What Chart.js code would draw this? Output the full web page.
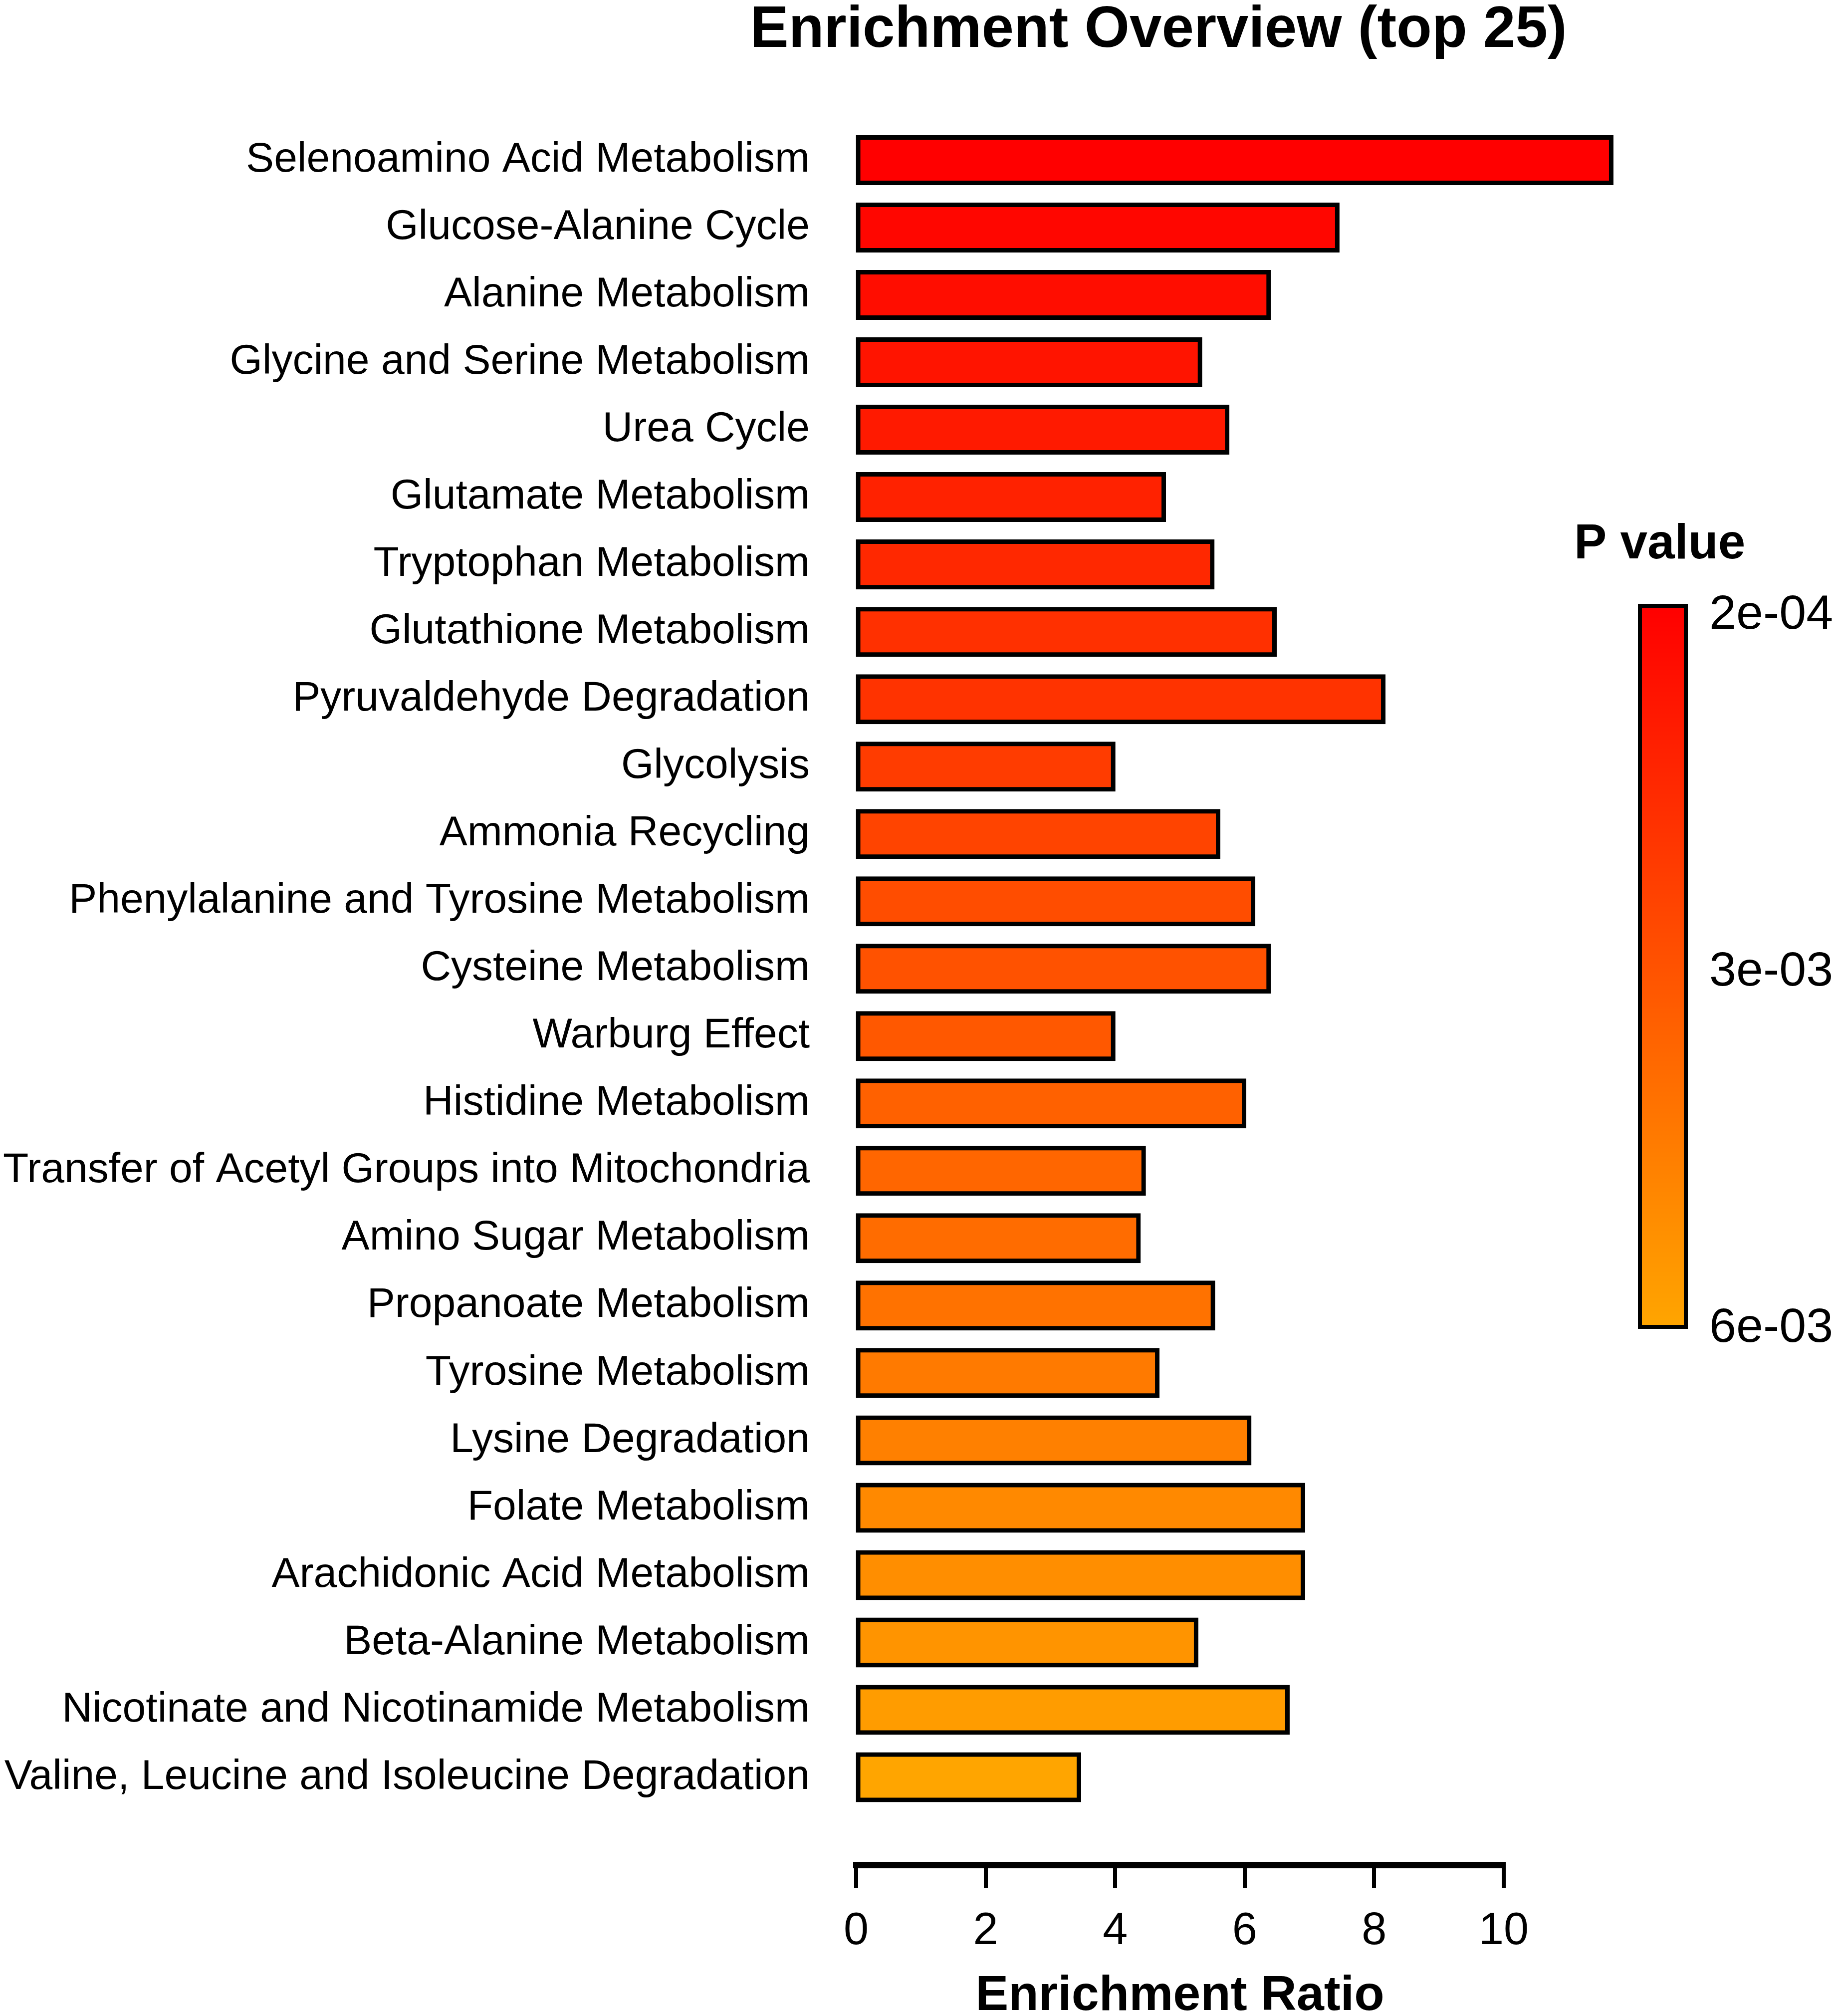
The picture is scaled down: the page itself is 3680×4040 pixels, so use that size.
<!DOCTYPE html>
<html><head><meta charset="utf-8">
<script src="https://cdn.jsdelivr.net/npm/chart.js@4"></script>
<style>html,body{margin:0;padding:0;background:#fff;}#wrap{width:3680px;height:4040px;}</style>
</head><body><div id="wrap"><canvas id="c" width="3680" height="4040" style="width:3680px;height:4040px"></canvas></div>
<script>
const chartTitle = 'Enrichment Overview (top 25)';
const xAxisTitle = 'Enrichment Ratio';
const legendTitle = 'P value';
const pathways = [
  'Selenoamino Acid Metabolism','Glucose-Alanine Cycle','Alanine Metabolism','Glycine and Serine Metabolism',
  'Urea Cycle','Glutamate Metabolism','Tryptophan Metabolism','Glutathione Metabolism','Pyruvaldehyde Degradation',
  'Glycolysis','Ammonia Recycling','Phenylalanine and Tyrosine Metabolism','Cysteine Metabolism','Warburg Effect',
  'Histidine Metabolism','Transfer of Acetyl Groups into Mitochondria','Amino Sugar Metabolism','Propanoate Metabolism',
  'Tyrosine Metabolism','Lysine Degradation','Folate Metabolism','Arachidonic Acid Metabolism','Beta-Alanine Metabolism',
  'Nicotinate and Nicotinamide Metabolism','Valine, Leucine and Isoleucine Degradation'
];
const enrichmentRatio = [11.66, 7.43, 6.37, 5.31, 5.73, 4.75, 5.50, 6.46, 8.14, 3.97, 5.59, 6.13, 6.37, 3.97, 5.99, 4.44, 4.36, 5.51, 4.65, 6.07, 6.90, 6.90, 5.25, 6.66, 3.44];
const pValues = [2.0e-4, 4.1e-4, 6.5e-4, 9.2e-4, 1.1e-3, 1.4e-3, 1.6e-3, 1.9e-3, 2.0e-3, 2.3e-3, 2.6e-3, 2.9e-3, 3.1e-3, 3.3e-3, 3.6e-3, 3.8e-3, 4.0e-3, 4.2e-3, 4.5e-3, 4.7e-3, 5.0e-3, 5.2e-3, 5.4e-3, 5.7e-3, 6.0e-3];
const xTickValues = [0, 2, 4, 6, 8, 10];
const legendTickLabels = ['2e-04', '3e-03', '6e-03'];
const pRange = [2e-4, 6e-3];

const FONT = '"Liberation Sans", Arial, sans-serif';
function colorFor(p) {
  let t = (p - pRange[0]) / (pRange[1] - pRange[0]);
  t = Math.max(0, Math.min(1, t));
  return 'rgb(255,' + Math.round(165 * t) + ',0)';
}

const overlay = {
  id: 'overlay',
  afterDraw(chart) {
    const ctx = chart.ctx;
    ctx.save();
    ctx.fillStyle = '#000';
    ctx.font = 'bold 116px ' + FONT;
    ctx.textAlign = 'center';
    ctx.textBaseline = 'alphabetic';
    ctx.fillText(chartTitle, 2322, 94);
    // colour bar
    const L = 3283, T = 1210, R = 3383, B = 2663, bw = 8;
    ctx.fillStyle = '#000';
    ctx.fillRect(L, T, R - L, B - T);
    const g = ctx.createLinearGradient(0, T + bw, 0, B - bw);
    g.addColorStop(0, colorFor(pRange[0]));
    g.addColorStop(1, colorFor(pRange[1]));
    ctx.fillStyle = g;
    ctx.fillRect(L + bw, T + bw, R - L - 2 * bw, B - T - 2 * bw);
    ctx.fillStyle = '#000';
    ctx.textAlign = 'left';
    ctx.font = 'bold 98px ' + FONT;
    ctx.fillText(legendTitle, 3155, 1119);
    ctx.font = '97px ' + FONT;
    ctx.textBaseline = 'middle';
    const ys = [1233, 1948, 2662];
    legendTickLabels.forEach((s, i) => ctx.fillText(s, 3426, ys[i]));
    ctx.restore();
  }
};

new Chart(document.getElementById('c'), {
  type: 'bar',
  data: {
    datasets: [{
      data: pathways.map((_, i) => ({ x: enrichmentRatio[i], y: i })),
      backgroundColor: pValues.map(colorFor),
      borderColor: '#000',
      borderWidth: 9,
      borderSkipped: false,
      inflateAmount: 4.5,
      barPercentage: 0.674,
      categoryPercentage: 1,
      clip: false
    }]
  },
  options: {
    indexAxis: 'y',
    responsive: false,
    devicePixelRatio: 1,
    animation: false,
    layout: { padding: { top: 253.5, right: 666, left: 0, bottom: 0 } },
    plugins: { legend: { display: false }, title: { display: false }, tooltip: { enabled: false } },
    scales: {
      y: {
        type: 'linear',
        reverse: true,
        offset: false,
        bounds: 'data',
        min: -0.5,
        max: 25.3,
        grid: { display: false, drawTicks: false, offset: false },
        border: { display: false },
        ticks: {
          autoSkip: false,
          padding: 93,
          color: '#000',
          font: { family: FONT, size: 84 },
          callback: v => (Number.isInteger(v) && pathways[v] !== undefined) ? pathways[v] : ''
        },
        afterBuildTicks: s => { s.ticks = pathways.map((_, i) => ({ value: i })); s.min = -0.5; s.max = 25.3; },
        afterFit: s => { s.width = 1716; }
      },
      x: {
        type: 'linear',
        min: 0,
        max: 10,
        afterBuildTicks: s => { s.ticks = xTickValues.map(v => ({ value: v })); },
        grid: { display: true, drawOnChartArea: false, drawTicks: true, tickLength: 46, lineWidth: 8, color: '#000' },
        border: { display: true, width: 13, color: '#000' },
        ticks: { color: '#000', padding: 34, font: { family: FONT, size: 90 }, maxRotation: 0 },
        title: { display: true, text: xAxisTitle, color: '#000', font: { family: FONT, size: 99, weight: 'bold', lineHeight: 1 }, padding: { top: 0, bottom: -10 } },
        afterFit: s => { s.height = 303; }
      }
    }
  },
  plugins: [overlay]
});
</script>
</body></html>
